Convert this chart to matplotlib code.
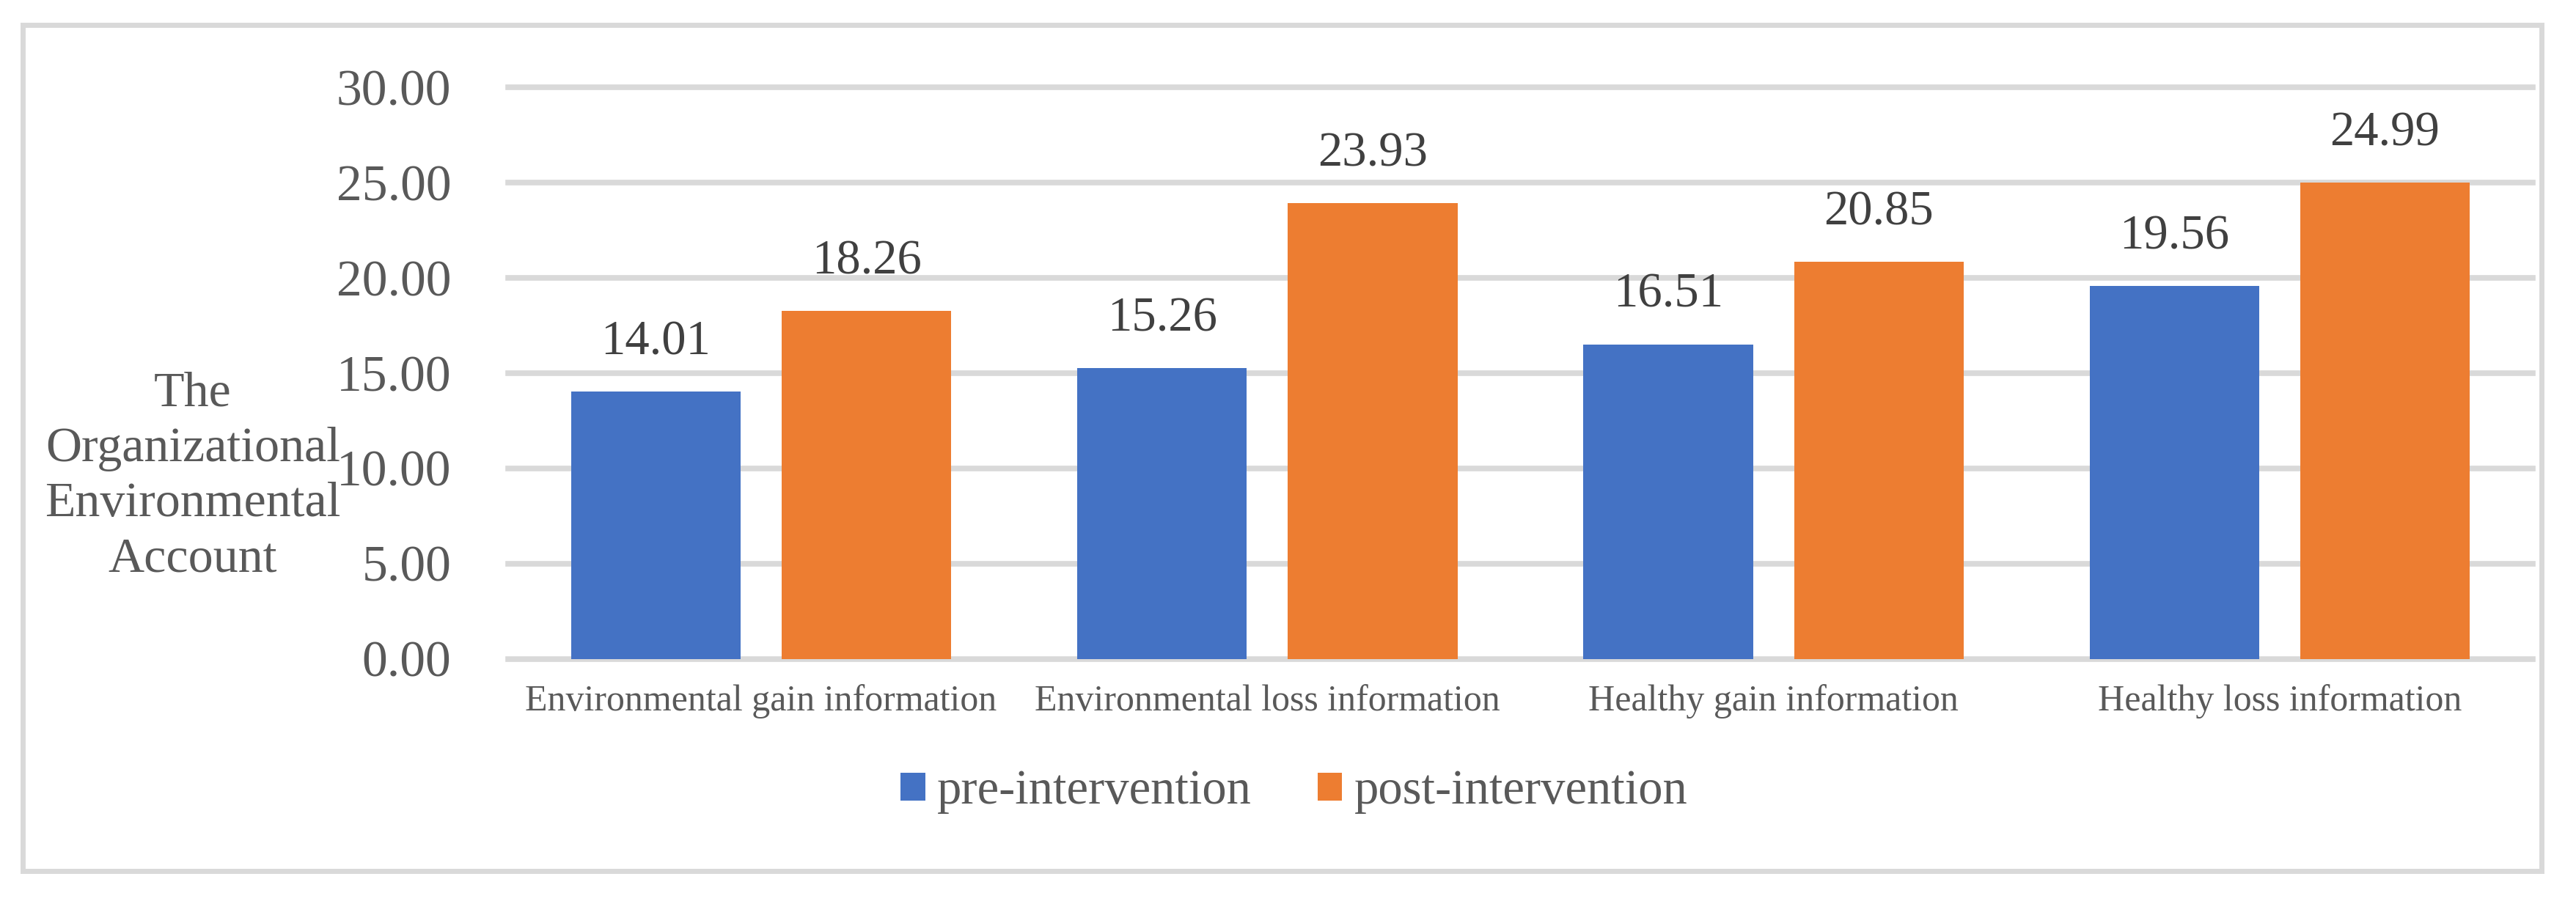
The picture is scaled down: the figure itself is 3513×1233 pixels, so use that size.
import matplotlib
matplotlib.use("Agg")
import matplotlib.pyplot as plt
import numpy as np
from matplotlib.patches import Rectangle

categories = ["Environmental gain information", "Environmental loss information",
              "Healthy gain information", "Healthy loss information"]
pre_values = [14.01, 15.26, 16.51, 19.56]
post_values = [18.26, 23.93, 20.85, 24.99]
series_names = ["pre-intervention", "post-intervention"]
y_ticks = [0, 5, 10, 15, 20, 25, 30]
y_label = "The\nOrganizational\nEnvironmental\nAccount"

BLUE = "#4472C4"
ORANGE = "#ED7D31"
GRID = "#D9D9D9"
TXT = "#595959"
DARK = "#404040"

plt.rcParams['font.family'] = ['Liberation Serif', 'DejaVu Serif']

W, H = 3513, 1233
DPI = 100
fig = plt.figure(figsize=(W / DPI, H / DPI), dpi=DPI)

def px(x0, y0, x1, y1):
    return [x0 / W, 1 - y1 / H, (x1 - x0) / W, (y1 - y0) / H]

ax = fig.add_axes(px(693, 119, 3454, 898.5))

x = np.arange(len(categories))
bw = 0.335
off = 0.208
b1 = ax.bar(x - off, pre_values, bw, color=BLUE, zorder=3, label=series_names[0])
b2 = ax.bar(x + off, post_values, bw, color=ORANGE, zorder=3, label=series_names[1])

for bars, vals in ((b1, pre_values), (b2, post_values)):
    for rect, v in zip(bars, vals):
        ax.annotate(f"{v:.2f}", (rect.get_x() + rect.get_width() / 2, v),
                    xytext=(0, 36.5), textcoords="offset points",
                    ha="center", va="baseline", fontsize=48, color=DARK,
                    annotation_clip=False)

ax.set_xlim(-0.5, len(categories) - 0.5)
ax.set_ylim(0, 30)
for t in y_ticks:
    ax.axhline(t, color=GRID, lw=5.5, zorder=1, clip_on=False)
ax.set_yticks(y_ticks)
ax.set_yticklabels([f"{t:.2f}" for t in y_ticks], fontsize=50, color=TXT)
ax.set_xticks(x)
ax.set_xticklabels(categories, fontsize=36, color=TXT)
ax.tick_params(axis="y", length=0, pad=56)
ax.tick_params(axis="x", length=0, pad=25)
for s in ax.spines.values():
    s.set_visible(False)

fig.text(263 / W, 1 - 650 / H, y_label, ha="center", va="center",
         multialignment="center", fontsize=49, color=TXT, linespacing=1.3)

leg = fig.legend(handles=[b1, b2], labels=series_names, loc="center",
                 bbox_to_anchor=(1765 / W, 1 - 1080 / H), ncol=2, frameon=False,
                 fontsize=48, handlelength=0.5, handleheight=0.5,
                 handletextpad=0.25, columnspacing=1.35, borderpad=0)
for t in leg.get_texts():
    t.set_color(TXT)

fig.patches.append(Rectangle((31 / W, 1 - 1188 / H), (3466 - 31) / W, (1188 - 34) / H,
                             transform=fig.transFigure, fill=False,
                             edgecolor=GRID, lw=5, zorder=0))

fig.savefig("out.png", dpi=DPI, facecolor="white")
